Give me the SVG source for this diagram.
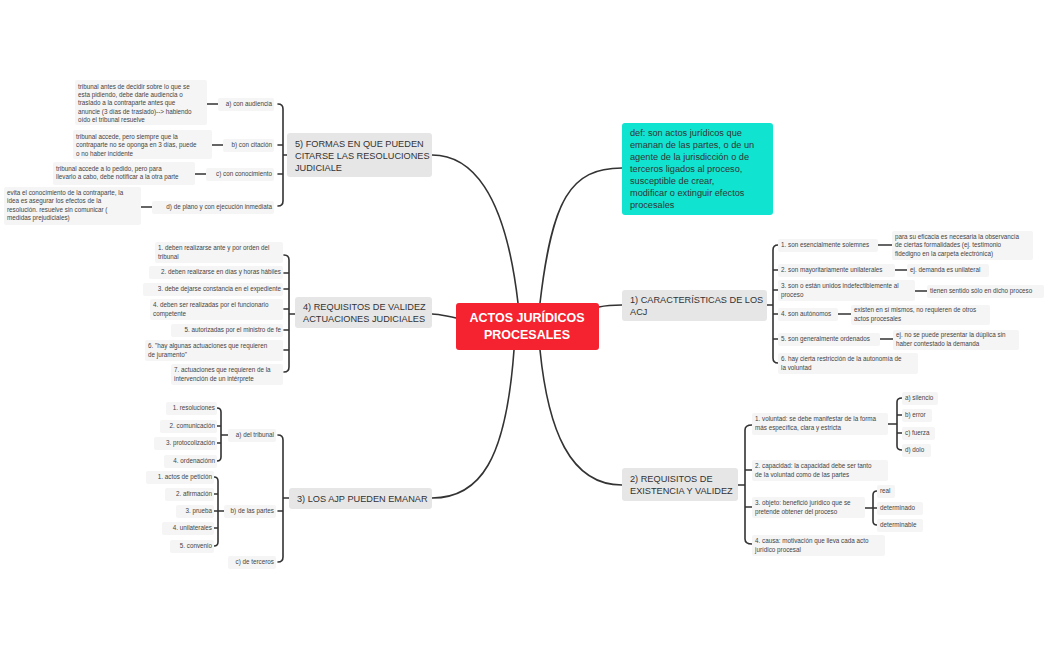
<svg xmlns="http://www.w3.org/2000/svg" width="1050" height="650" viewBox="0 0 1050 650">
<style>
.c{fill:none;stroke:#333;stroke-width:1.6;stroke-linecap:round}
.s{fill:#f5f5f5}
.t{font-family:"Liberation Sans",Arial,sans-serif;font-size:6.3px;fill:#444}
.m{fill:#e6e6e6}
.mt{font-family:"Liberation Sans",Arial,sans-serif;font-size:9.2px;fill:#333}
.e{text-anchor:end}
</style>
<rect width="1050" height="650" fill="#fff"/>
<g id="connectors">
<path class="c" d="M518,303 C505,190 470,155 432,155"/>
<path class="c" d="M540,303 C552,200 570,168 622,168"/>
<path class="c" d="M456,318 C445,316 440,314 432,314"/>
<path class="c" d="M514,350 C506,460 480,498 432,498"/>
<path class="c" d="M599,307 C608,305 612,305 622,305"/>
<path class="c" d="M540,350 C548,430 570,485 622,485"/>
<!-- 5 -->
<path class="c" d="M278,104 Q283,104 283,109 V201 Q283,206 278,206 M278,145 H283 M278,174 H283 M283,155 H287"/>
<path class="c" d="M207,104 H218 M212,145 H223 M195,174 H206 M141,207 H153"/>
<!-- 4 -->
<path class="c" d="M284,255 Q289,255 289,260 V367 Q289,372 284,372 M284,273 H289 M284,289 H289 M284,309 H289 M284,330 H289 M284,350 H289 M289,314 H295"/>
<!-- 3 -->
<path class="c" d="M278,435 Q283,435 283,440 V557 Q283,562 278,562 M278,511 H283 M283,498 H289"/>
<path class="c" d="M217,408 Q221,408 221,412 V457 Q221,461 217,461 M217,426 H221 M217,443 H221 M221,435 H228"/>
<path class="c" d="M214,477 Q218,477 218,481 V542 Q218,546 214,546 M214,494 H218 M214,528 H218 M214,511 H224"/>
<!-- 1 -->
<path class="c" d="M778,245 Q773,245 773,250 V358 Q773,363 778,363 M773,270 H778 M773,290 H778 M773,314 H778 M773,339 H778 M767,305 H773"/>
<path class="c" d="M878,245 H892 M895,270 H907 M915,291 H927 M838,314 H851 M880,339 H893"/>
<!-- 2 -->
<path class="c" d="M752,425 Q745,425 745,430 V539 Q745,544 752,544 M745,470 H752 M745,507 H752 M738,485 H745"/>
<path class="c" d="M902,398 Q897,398 897,402 V446 Q897,450 902,450 M897,415 H902 M897,433 H902 M888,424 H897"/>
<path class="c" d="M877,491 Q873,491 873,495 V521 Q873,525 877,525 M865,508 H877"/>
</g>
<g id="center"><rect x="456" y="303" width="143" height="47" rx="3" fill="#f5222f"/>
<text x="527" y="322" text-anchor="middle" font-family="Liberation Sans,Arial,sans-serif" font-size="12.5" font-weight="bold" fill="#fff">ACTOS JURÍDICOS</text>
<text x="527" y="339" text-anchor="middle" font-family="Liberation Sans,Arial,sans-serif" font-size="12.5" font-weight="bold" fill="#fff">PROCESALES</text></g>
<g id="def"><rect x="622" y="123" width="151" height="92" rx="3" fill="#10e3d0"/>
<text class="mt" x="630" y="136"><tspan x="630">def: son actos jurídicos que</tspan><tspan x="630" dy="12">emanan de las partes, o de un</tspan><tspan x="630" dy="12">agente de la jurisdicción o de</tspan><tspan x="630" dy="12">terceros ligados al proceso,</tspan><tspan x="630" dy="12">susceptible de crear,</tspan><tspan x="630" dy="12">modificar o extinguir efectos</tspan><tspan x="630" dy="12">procesales</tspan></text></g>
<g id="n5"><rect class="m" x="287" y="133" width="145" height="44" rx="3"/>
<text class="mt" x="295" y="147"><tspan x="295">5) FORMAS EN QUE PUEDEN</tspan><tspan x="295" dy="12">CITARSE LAS RESOLUCIONES</tspan><tspan x="295" dy="12">JUDICIALE</tspan></text></g>
<g id="n4"><rect class="m" x="295" y="297" width="137" height="31" rx="3"/>
<text class="mt" x="303" y="310"><tspan x="303">4) REQUISITOS DE VALIDEZ</tspan><tspan x="303" dy="12">ACTUACIONES JUDICIALES</tspan></text></g>
<g id="n3"><rect class="m" x="289" y="488" width="143" height="21" rx="3"/>
<text class="mt" x="297" y="502">3) LOS AJP PUEDEN EMANAR</text></g>
<g id="n1"><rect class="m" x="622" y="290" width="145" height="31" rx="3"/>
<text class="mt" x="630" y="303"><tspan x="630">1) CARACTERÍSTICAS DE LOS</tspan><tspan x="630" dy="12">ACJ</tspan></text></g>
<g id="n2"><rect class="m" x="622" y="468" width="116" height="33" rx="3"/>
<text class="mt" x="630" y="482"><tspan x="630">2) REQUISITOS DE</tspan><tspan x="630" dy="12">EXISTENCIA Y VALIDEZ</tspan></text></g>

<g id="n5a"><rect class="s" x="218" y="98" width="56" height="13" rx="2"/><text class="t e" x="272" y="106">a) con audiencia</text></g>
<g id="n5ad"><rect class="s" x="75" y="80" width="132" height="45" rx="2"/><text class="t" x="78" y="89"><tspan x="78">tribunal antes de decidir sobre lo que se</tspan><tspan x="78" dy="8.2">esta pidiendo, debe darle audiencia o</tspan><tspan x="78" dy="8.2">traslado a la contraparte antes que</tspan><tspan x="78" dy="8.2">anuncie (3 días de traslado)--&gt; habiendo</tspan><tspan x="78" dy="8.2">oído el tribunal resuelve</tspan></text></g>
<g id="n5b"><rect class="s" x="223" y="139" width="51" height="13" rx="2"/><text class="t e" x="272" y="147">b) con citación</text></g>
<g id="n5bd"><rect class="s" x="73" y="130" width="139" height="29" rx="2"/><text class="t" x="76" y="139"><tspan x="76">tribunal accede, pero siempre que la</tspan><tspan x="76" dy="8.4">contraparte no se oponga en 3 días, puede</tspan><tspan x="76" dy="8.4">o no haber incidente</tspan></text></g>
<g id="n5c"><rect class="s" x="206" y="168" width="68" height="13" rx="2"/><text class="t e" x="272" y="176">c) con conocimiento</text></g>
<g id="n5cd"><rect class="s" x="53" y="162" width="142" height="23" rx="2"/><text class="t" x="56" y="171"><tspan x="56">tribunal accede a lo pedido, pero para</tspan><tspan x="56" dy="8.4">llevarlo a cabo, debe notificar a la otra parte</tspan></text></g>
<g id="n5d"><rect class="s" x="152" y="201" width="122" height="13" rx="2"/><text class="t e" x="272" y="209">d) de plano y con ejecución inmediata</text></g>
<g id="n5dd"><rect class="s" x="4" y="187" width="137" height="38" rx="2"/><text class="t" x="7" y="195"><tspan x="7">evita el conocimiento de la contraparte, la</tspan><tspan x="7" dy="8.4">idea es asegurar los efectos de la</tspan><tspan x="7" dy="8.4">resolución. resuelve sin comunicar (</tspan><tspan x="7" dy="8.4">medidas prejudiciales)</tspan></text></g>

<g id="n41"><rect class="s" x="155" y="242" width="128" height="21" rx="2"/><text class="t" x="158" y="250"><tspan x="158">1. deben realizarse ante y por orden del</tspan><tspan x="158" dy="8.6">tribunal</tspan></text></g>
<g id="n42"><rect class="s" x="149" y="266" width="134" height="13" rx="2"/><text class="t e" x="281" y="274">2. deben realizarse en días y horas hábiles</text></g>
<g id="n43"><rect class="s" x="143" y="283" width="140" height="13" rx="2"/><text class="t e" x="281" y="291">3. debe dejarse constancia en el expediente</text></g>
<g id="n44"><rect class="s" x="150" y="299" width="133" height="21" rx="2"/><text class="t" x="153" y="307"><tspan x="153">4. deben ser realizadas por el funcionario</tspan><tspan x="153" dy="8.6">competente</tspan></text></g>
<g id="n45"><rect class="s" x="171" y="324" width="112" height="13" rx="2"/><text class="t e" x="281" y="332">5. autorizadas por el ministro de fe</text></g>
<g id="n46"><rect class="s" x="145" y="340" width="138" height="21" rx="2"/><text class="t" x="148" y="348"><tspan x="148">6. "hay algunas actuaciones que requieren</tspan><tspan x="148" dy="8.6">de juramento"</tspan></text></g>
<g id="n47"><rect class="s" x="171" y="364" width="112" height="21" rx="2"/><text class="t" x="174" y="372"><tspan x="174">7. actuaciones que requieren de la</tspan><tspan x="174" dy="8.6">intervención de un intérprete</tspan></text></g>

<g id="n3a"><rect class="s" x="228" y="429" width="48" height="13" rx="2"/><text class="t e" x="274" y="437">a) del tribunal</text></g>
<g id="n3b"><rect class="s" x="224" y="505" width="52" height="13" rx="2"/><text class="t e" x="274" y="513">b) de las partes</text></g>
<g id="n3c"><rect class="s" x="228" y="556" width="48" height="13" rx="2"/><text class="t e" x="274" y="564">c) de terceros</text></g>
<g id="n3a1"><rect class="s" x="166" y="402" width="51" height="13" rx="2"/><text class="t e" x="215" y="410">1. resoluciones</text></g>
<g id="n3a2"><rect class="s" x="160" y="420" width="57" height="13" rx="2"/><text class="t e" x="215" y="428">2. comunicación</text></g>
<g id="n3a3"><rect class="s" x="154" y="437" width="63" height="13" rx="2"/><text class="t e" x="215" y="445">3. protocolización</text></g>
<g id="n3a4"><rect class="s" x="164" y="455" width="53" height="13" rx="2"/><text class="t e" x="215" y="463">4. ordenaciónn</text></g>
<g id="n3b1"><rect class="s" x="146" y="471" width="68" height="13" rx="2"/><text class="t e" x="212" y="479">1. actos de petición</text></g>
<g id="n3b2"><rect class="s" x="165" y="488" width="49" height="13" rx="2"/><text class="t e" x="212" y="496">2. afirmación</text></g>
<g id="n3b3"><rect class="s" x="176" y="505" width="38" height="13" rx="2"/><text class="t e" x="212" y="513">3. prueba</text></g>
<g id="n3b4"><rect class="s" x="162" y="522" width="52" height="13" rx="2"/><text class="t e" x="212" y="530">4. unilaterales</text></g>
<g id="n3b5"><rect class="s" x="170" y="540" width="44" height="13" rx="2"/><text class="t e" x="212" y="548">5. convenio</text></g>

<g id="n11"><rect class="s" x="778" y="239" width="100" height="13" rx="2"/><text class="t" x="781" y="247">1. son esencialmente solemnes</text></g>
<g id="n11d"><rect class="s" x="892" y="231" width="141" height="29" rx="2"/><text class="t" x="895" y="239"><tspan x="895">para su eficacia es necesaria la observancia</tspan><tspan x="895" dy="8.4">de ciertas formalidades (ej. testimonio</tspan><tspan x="895" dy="8.4">fidedigno en la carpeta electrónica)</tspan></text></g>
<g id="n12"><rect class="s" x="778" y="264" width="117" height="13" rx="2"/><text class="t" x="781" y="272">2. son mayoritariamente unilaterales</text></g>
<g id="n12d"><rect class="s" x="907" y="264" width="82" height="13" rx="2"/><text class="t" x="910" y="272">ej. demanda es unilateral</text></g>
<g id="n13"><rect class="s" x="778" y="280" width="137" height="21" rx="2"/><text class="t" x="781" y="288"><tspan x="781">3. son o están unidos indefectiblemente al</tspan><tspan x="781" dy="8.6">proceso</tspan></text></g>
<g id="n13d"><rect class="s" x="927" y="285" width="117" height="13" rx="2"/><text class="t" x="930" y="293">tienen sentido sólo en dicho proceso</text></g>
<g id="n14"><rect class="s" x="778" y="308" width="60" height="13" rx="2"/><text class="t" x="781" y="316">4. son autónomos</text></g>
<g id="n14d"><rect class="s" x="851" y="305" width="139" height="20" rx="2"/><text class="t" x="854" y="312"><tspan x="854">existen en sí mismos, no requieren de otros</tspan><tspan x="854" dy="8.6">actos procesales</tspan></text></g>
<g id="n15"><rect class="s" x="778" y="333" width="102" height="13" rx="2"/><text class="t" x="781" y="341">5. son generalmente ordenados</text></g>
<g id="n15d"><rect class="s" x="893" y="330" width="126" height="20" rx="2"/><text class="t" x="896" y="337"><tspan x="896">ej. no se puede presentar la dúplica sin</tspan><tspan x="896" dy="8.6">haber contestado la demanda</tspan></text></g>
<g id="n16"><rect class="s" x="778" y="353" width="140" height="21" rx="2"/><text class="t" x="781" y="361"><tspan x="781">6. hay cierta restricción de la autonomía de</tspan><tspan x="781" dy="8.6">la voluntad</tspan></text></g>

<g id="n21"><rect class="s" x="752" y="413" width="136" height="22" rx="2"/><text class="t" x="755" y="421"><tspan x="755">1. voluntad: se debe manifestar de la forma</tspan><tspan x="755" dy="8.8">más específica, clara y estricta</tspan></text></g>
<g id="n21a"><rect class="s" x="902" y="392" width="36" height="13" rx="2"/><text class="t" x="905" y="400">a) silencio</text></g>
<g id="n21b"><rect class="s" x="902" y="409" width="30" height="13" rx="2"/><text class="t" x="905" y="417">b) error</text></g>
<g id="n21c"><rect class="s" x="902" y="427" width="33" height="13" rx="2"/><text class="t" x="905" y="435">c) fuerza</text></g>
<g id="n21d"><rect class="s" x="902" y="444" width="29" height="13" rx="2"/><text class="t" x="905" y="452">d) dolo</text></g>
<g id="n22"><rect class="s" x="752" y="460" width="136" height="21" rx="2"/><text class="t" x="755" y="468"><tspan x="755">2. capacidad: la capacidad debe ser tanto</tspan><tspan x="755" dy="8.8">de la voluntad como de las partes</tspan></text></g>
<g id="n23"><rect class="s" x="752" y="497" width="113" height="21" rx="2"/><text class="t" x="755" y="505"><tspan x="755">3. objeto: benefició jurídico que se</tspan><tspan x="755" dy="8.8">pretende obtener del proceso</tspan></text></g>
<g id="n23a"><rect class="s" x="877" y="485" width="18" height="13" rx="2"/><text class="t" x="880" y="493">real</text></g>
<g id="n23b"><rect class="s" x="877" y="502" width="46" height="13" rx="2"/><text class="t" x="880" y="510">determinado</text></g>
<g id="n23c"><rect class="s" x="877" y="519" width="46" height="13" rx="2"/><text class="t" x="880" y="527">determinable</text></g>
<g id="n24"><rect class="s" x="752" y="535" width="133" height="21" rx="2"/><text class="t" x="755" y="543"><tspan x="755">4. causa: motivación que lleva cada acto</tspan><tspan x="755" dy="8.8">jurídico procesal</tspan></text></g>
</svg>
